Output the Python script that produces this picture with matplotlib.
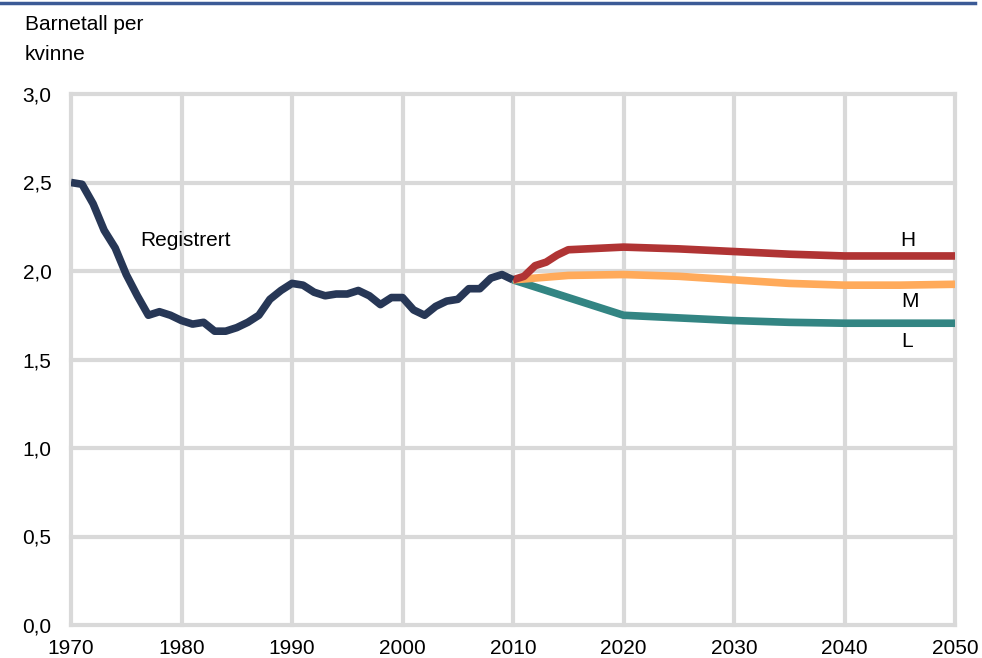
import numpy as np
import matplotlib.pyplot as plt
from matplotlib.ticker import FuncFormatter

plt.rcParams['font.family'] = ['Liberation Sans', 'DejaVu Sans']

# Registered total fertility rate
reg_years = list(range(1970, 2011))
reg_vals = [2.50, 2.49, 2.38, 2.23, 2.13, 1.98, 1.86, 1.75, 1.77, 1.75,
            1.72, 1.70, 1.71, 1.66, 1.66, 1.68, 1.71, 1.75, 1.84, 1.89,
            1.93, 1.92, 1.88, 1.86, 1.87, 1.87, 1.89, 1.86, 1.81, 1.85,
            1.85, 1.78, 1.75, 1.80, 1.83, 1.84, 1.90, 1.90, 1.96, 1.98,
            1.95]

# Projection alternatives
proj_years = [2010, 2011, 2012, 2013, 2014, 2015, 2020, 2025, 2030, 2035, 2040, 2045, 2050]
high = [1.95, 1.97, 2.03, 2.05, 2.09, 2.12, 2.135, 2.125, 2.11, 2.095, 2.085, 2.085, 2.085]
mid = [1.95, 1.955, 1.96, 1.965, 1.97, 1.975, 1.98, 1.97, 1.95, 1.93, 1.92, 1.92, 1.925]
low = [1.95, 1.93, 1.91, 1.89, 1.87, 1.85, 1.75, 1.735, 1.72, 1.71, 1.705, 1.705, 1.705]

fig = plt.figure(figsize=(9.82, 6.58), dpi=100)
ax = fig.add_axes([71/982, 1 - 625/658, 884/982, 531/658])

ax.plot(proj_years, low, color='#338583', lw=5.5, solid_capstyle='butt', zorder=3)
ax.plot(proj_years, mid, color='#FFAA5A', lw=5.5, solid_capstyle='butt', zorder=3)
ax.plot(proj_years, high, color='#B03434', lw=5.5, solid_capstyle='butt', zorder=3)
ax.plot(reg_years, reg_vals, color='#273756', lw=5.5, solid_capstyle='butt', zorder=4)

ax.set_xlim(1970, 2050)
ax.set_ylim(0, 3.0)
ax.set_xticks(range(1970, 2051, 10))
ax.set_yticks(np.arange(0, 3.01, 0.5))
ax.yaxis.set_major_formatter(FuncFormatter(lambda v, p: f"{v:.1f}".replace('.', ',')))

ax.grid(True, color='#D9D9D9', lw=3)
for ln in ax.get_xgridlines() + ax.get_ygridlines():
    ln.set_clip_on(False)
ax.set_axisbelow(True)
for s in ax.spines.values():
    s.set_visible(False)
ax.tick_params(length=0, labelsize=15)
ax.tick_params(axis='y', pad=14)
ax.tick_params(axis='x', pad=10)

ax.text(1980.4, 2.175, 'Registrert', fontsize=15, ha='center', va='center')
ax.text(2045.7, 2.175, 'H', fontsize=15, ha='center', va='center')
ax.text(2045.9, 1.825, 'M', fontsize=15, ha='center', va='center')
ax.text(2045.7, 1.60, 'L', fontsize=15, ha='center', va='center')

fig.text(25/982, 1 - 25/658, 'Barnetall per', fontsize=15, ha='left', va='center')
fig.text(25/982, 1 - 54/658, 'kvinne', fontsize=15, ha='left', va='center')

# top rule
fig.add_artist(plt.Line2D([0, 975/982], [1 - 3/658, 1 - 3/658], color='#3B5A96', lw=2.5))

fig.savefig('out.png', dpi=100)
